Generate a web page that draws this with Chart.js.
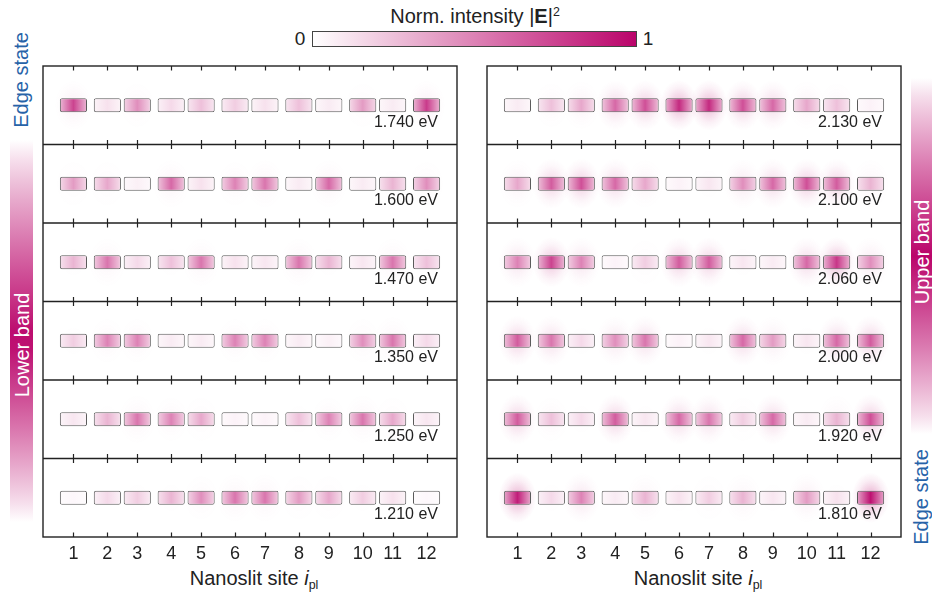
<!DOCTYPE html>
<html>
<head>
<meta charset="utf-8">
<script src="https://cdn.jsdelivr.net/npm/chart.js@4.4.1/dist/chart.umd.min.js"></script>
<style>
  html, body { margin: 0; padding: 0; background: #fff; }
  body { width: 932px; height: 596px; position: relative; overflow: hidden;
         font-family: "Liberation Sans", Arial, Helvetica, sans-serif; color: #222; }
  .abs { position: absolute; }
  canvas { position: absolute; }
  .rot { position: absolute; transform: translate(-50%, -50%) rotate(-90deg); white-space: nowrap; }
  .ctr { position: absolute; transform: translate(-50%, -50%); white-space: nowrap; }
  sub { font-size: 62%; vertical-align: -0.35em; line-height: 0; }
  sup { font-size: 62%; vertical-align: 0.55em; line-height: 0; }
</style>
</head>
<body>
<div id="cbTitle" class="ctr" style="left:475px; top:16px; font-size:20px;">Norm. intensity |<b>E</b>|<sup>2</sup></div>
<div class="ctr" style="left:300px; top:39px; font-size:19px;">0</div>
<div id="cbar" class="abs" style="left:312px; top:31px; width:323px; height:14px; border:1px solid #444;"></div>
<div class="ctr" style="left:648px; top:39px; font-size:19px;">1</div>

<div id="lowBar" class="abs" style="left:10px; top:140px; width:23px; height:382px;"></div>
<div class="rot" style="left:21px; top:80px; font-size:20px; color:#2763a8;">Edge state</div>
<div class="rot" style="left:21.5px; top:345px; font-size:20px; color:#fff;">Lower band</div>

<div id="upBar" class="abs" style="left:911px; top:78px; width:21px; height:356px;"></div>
<div class="rot" style="left:921.5px; top:252px; font-size:20px; color:#fff;">Upper band</div>
<div class="rot" style="left:921px; top:497px; font-size:20px; color:#2763a8;">Edge state</div>

<canvas id="left" width="434" height="507" style="left:33px; top:56px;"></canvas>
<canvas id="right" width="434" height="507" style="left:477px; top:56px;"></canvas>

<div class="ctr" style="left:254px; top:578px; font-size:20px;">Nanoslit site <i>i</i><sub>pl</sub></div>
<div class="ctr" style="left:698px; top:578px; font-size:20px;">Nanoslit site <i>i</i><sub>pl</sub></div>

<script>
// Nanoslit site labels along the chain
const siteLabels = ['1', '2', '3', '4', '5', '6', '7', '8', '9', '10', '11', '12'];

// Mode energies, listed top row first
const lowerEnergies = ['1.740', '1.600', '1.470', '1.350', '1.250', '1.210'];
const upperEnergies = ['2.130', '2.100', '2.060', '2.000', '1.920', '1.810'];

// Normalized |E|^2 at each nanoslit, one list per mode
const low1740 = [0.75, 0.12, 0.45, 0.15, 0.25, 0.20, 0.12, 0.25, 0.08, 0.40, 0.08, 0.78];
const low1600 = [0.40, 0.35, 0.06, 0.60, 0.12, 0.50, 0.55, 0.08, 0.60, 0.08, 0.30, 0.45];
const low1470 = [0.30, 0.55, 0.15, 0.25, 0.55, 0.12, 0.10, 0.55, 0.30, 0.10, 0.55, 0.25];
const low1350 = [0.20, 0.50, 0.50, 0.08, 0.08, 0.50, 0.50, 0.08, 0.06, 0.45, 0.55, 0.15];
const low1250 = [0.10, 0.30, 0.55, 0.50, 0.35, 0.05, 0.05, 0.25, 0.50, 0.55, 0.35, 0.10];
const low1210 = [0.03, 0.15, 0.20, 0.30, 0.45, 0.55, 0.55, 0.40, 0.35, 0.20, 0.12, 0.03];

const up2130 = [0.08, 0.25, 0.35, 0.60, 0.70, 0.85, 0.85, 0.70, 0.60, 0.35, 0.25, 0.05];
const up2100 = [0.35, 0.65, 0.70, 0.60, 0.35, 0.05, 0.10, 0.45, 0.60, 0.70, 0.65, 0.30];
const up2060 = [0.50, 0.75, 0.50, 0.05, 0.20, 0.65, 0.65, 0.10, 0.08, 0.60, 0.80, 0.45];
const up2000 = [0.65, 0.55, 0.15, 0.45, 0.55, 0.05, 0.10, 0.60, 0.40, 0.10, 0.60, 0.65];
const up1920 = [0.65, 0.25, 0.15, 0.65, 0.10, 0.60, 0.55, 0.20, 0.60, 0.08, 0.30, 0.70];
const up1810 = [0.90, 0.15, 0.50, 0.08, 0.30, 0.12, 0.20, 0.30, 0.10, 0.40, 0.12, 0.95];

const lowerModes = [low1740, low1600, low1470, low1350, low1250, low1210];
const upperModes = [up2130, up2100, up2060, up2000, up1920, up1810];

// Dimerized chain geometry: sites 2-3, 4-5, ... form cells; 1 and 12 are end sites
const INTRA_GAP = 30;
const INTER_GAP = 34;
const sitePos = siteLabels.map((_, i) => {
  const nInter = Math.ceil(i / 2);
  const nIntra = Math.floor(i / 2);
  return nInter * INTER_GAP + nIntra * INTRA_GAP;
});

const BOX_HALF = 13.6;          // half slit width, in lattice units
const EDGE_FRACTION = 0.38;     // intensity at slit ends relative to centre
const FONT = '"Liberation Sans", Arial, Helvetica, sans-serif';

// White -> magenta colour map
const C0 = [255, 255, 255];
const C1 = [186, 4, 106];
function cmap(t, a) {
  t = Math.max(0, Math.min(1, t));
  const c = C0.map((v, i) => Math.round(v + (C1[i] - v) * t));
  return a === undefined ? `rgb(${c[0]},${c[1]},${c[2]})` : `rgba(${c[0]},${c[1]},${c[2]},${a})`;
}

// Colour bar and band bars
(function () {
  const stops = [];
  for (let i = 0; i <= 10; i++) stops.push(`${cmap(i / 10)} ${i * 10}%`);
  document.getElementById('cbar').style.background = `linear-gradient(to right, ${stops.join(',')})`;
  const band = (peak) => {
    const s = [];
    for (let i = 0; i <= 20; i++) {
      const f = i / 20;
      const t = f <= peak ? f / peak : (1 - f) / (1 - peak);
      s.push(`${cmap(Math.pow(t, 0.9))} ${f * 100}%`);
    }
    return `linear-gradient(to bottom, ${s.join(',')})`;
  };
  document.getElementById('lowBar').style.background = band(0.52);
  document.getElementById('upBar').style.background = band(0.5);
})();

// Soft near-field glow drawn beneath each slit
const glowPlugin = {
  id: 'glow',
  beforeDatasetsDraw(chart, args, opts) {
    const ctx = chart.ctx;
    const meta = chart.getDatasetMeta(0);
    const data = chart.data.datasets[0].data;
    ctx.save();
    const a = chart.chartArea;
    ctx.beginPath(); ctx.rect(a.left, a.top, a.right - a.left, a.bottom - a.top); ctx.clip();
    meta.data.forEach((el, i) => {
      const v = data[i].v;
      const k = opts.strength * v * v;
      const cx = (el.x + el.base) / 2, cy = el.y;
      ctx.save();
      ctx.translate(cx, cy);
      ctx.scale(0.9, 1.2);
      const g = ctx.createRadialGradient(0, 0, 0, 0, 0, 21);
      g.addColorStop(0, cmap(1, k));
      g.addColorStop(0.35, cmap(1, k * 0.6));
      g.addColorStop(0.7, cmap(1, k * 0.2));
      g.addColorStop(1, cmap(1, 0));
      ctx.fillStyle = g;
      ctx.beginPath(); ctx.arc(0, 0, 21, 0, Math.PI * 2); ctx.fill();
      ctx.restore();
    });
    ctx.restore();
  }
};

// Panel frame, row separators, inward ticks and energy labels
const framePlugin = {
  id: 'frame',
  afterDatasetsDraw(chart, args, opts) {
    const ctx = chart.ctx;
    const xs = chart.scales.x, ys = chart.scales.y;
    const { left, right, top, bottom } = chart.chartArea;
    const rows = opts.energies.length;
    ctx.save();
    ctx.strokeStyle = '#222';
    ctx.lineWidth = 1.4;
    ctx.strokeRect(left, top, right - left, bottom - top);
    ctx.beginPath();
    for (let r = 1; r < rows; r++) {
      const y = ys.getPixelForValue(r);
      ctx.moveTo(left, y); ctx.lineTo(right, y);
    }
    ctx.stroke();
    ctx.lineWidth = 1.2;
    ctx.beginPath();
    for (let r = 0; r <= rows; r++) {
      const y = ys.getPixelForValue(r);
      const up = r > 0 ? 4.5 : 0, dn = r < rows ? 4.5 : 0;
      xs.ticks.forEach(t => {
        const px = Math.round(xs.getPixelForValue(t.value)) + 0.5;
        ctx.moveTo(px, y - up); ctx.lineTo(px, y + dn);
      });
    }
    ctx.stroke();
    ctx.fillStyle = '#222';
    ctx.font = `16px ${FONT}`;
    ctx.textAlign = 'right';
    ctx.textBaseline = 'alphabetic';
    opts.energies.forEach((e, r) => {
      ctx.fillText(`${e} eV`, right - 19, ys.getPixelForValue(r + 0.775));
    });
    ctx.restore();
  }
};

function makePanel(id, modes, energies, glow) {
  const boxes = [];
  modes.forEach((row, r) => {
    row.forEach((v, s) => {
      boxes.push({ y: r + 0.5, x: [sitePos[s] - BOX_HALF, sitePos[s] + BOX_HALF], v });
    });
  });
  const span = sitePos[sitePos.length - 1];
  return new Chart(document.getElementById(id), {
    type: 'bar',
    data: {
      datasets: [{
        data: boxes,
        backgroundColor: (c) => {
          if (c.type !== 'data' || !c.raw) return '#fff';
          const xs = c.chart.scales.x;
          if (!xs || !isFinite(xs.getPixelForValue(c.raw.x[0]))) return cmap(c.raw.v);
          const x0 = xs.getPixelForValue(c.raw.x[0]);
          const x1 = xs.getPixelForValue(c.raw.x[1]);
          const g = c.chart.ctx.createLinearGradient(x0, 0, x1, 0);
          const v = c.raw.v;
          g.addColorStop(0, cmap(v * EDGE_FRACTION));
          g.addColorStop(0.5, cmap(v));
          g.addColorStop(1, cmap(v * EDGE_FRACTION));
          return g;
        },
        borderColor: '#5a5a5a',
        borderWidth: 1,
        borderRadius: 2,
        borderSkipped: false,
        barThickness: 14,
        inflateAmount: 0
      }]
    },
    options: {
      indexAxis: 'y',
      responsive: false,
      animation: false,
      events: [],
      layout: { padding: { left: 10, right: 10, top: 10, bottom: 0 } },
      plugins: {
        legend: { display: false },
        tooltip: { enabled: false },
        glow: { strength: glow },
        frame: { energies }
      },
      scales: {
        x: {
          type: 'linear',
          position: 'bottom',
          min: -30.5,
          max: span + 30.5,
          grid: { display: false, drawTicks: false },
          border: { display: false },
          afterBuildTicks: (s) => { s.ticks = sitePos.map(v => ({ value: v })); },
          afterFit: (s) => { s.height = 26; },
          ticks: {
            autoSkip: false,
            maxRotation: 0,
            padding: 6,
            color: '#222',
            font: { size: 18, family: FONT },
            callback: (v, i) => siteLabels[i]
          }
        },
        y: {
          type: 'linear',
          min: 0,
          max: modes.length,
          reverse: true,
          offset: false,
          display: false
        }
      }
    },
    plugins: [glowPlugin, framePlugin]
  });
}

makePanel('left', lowerModes, lowerEnergies, 0.1);
makePanel('right', upperModes, upperEnergies, 0.38);
</script>
</body>
</html>
